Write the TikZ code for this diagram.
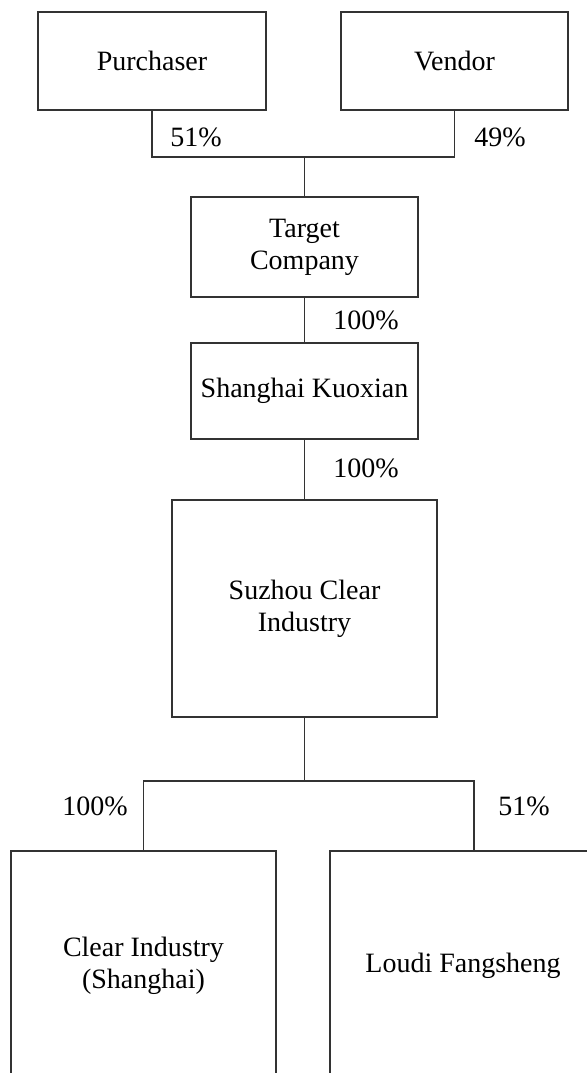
\documentclass[tikz,border=0pt]{standalone}
\usepackage{fontspec}
\setmainfont{Liberation Serif}

\tikzset{
  entity/.style={draw=black!80, line width=0.65pt, inner sep=0pt, align=center,
    font=\fontsize{14}{16}\selectfont},
  share/.style={font=\fontsize{14}{16}\selectfont, inner sep=0pt},
  link/.style={draw=black!80, line width=0.65pt}
}

\begin{document}
\begin{tikzpicture}[x=0.5pt, y=-0.5pt]
  \clip (0,0) rectangle (587,1073);
  % owners
  \node[entity, minimum width=114pt, minimum height=49pt] (purchaser) at (152,61) {Purchaser};
  \node[entity, minimum width=113.5pt, minimum height=49pt] (vendor) at (454.5,61) {Vendor};
  % holding chain
  \node[entity, minimum width=113.5pt, minimum height=50pt] (target) at (304.5,247) {Target\\Company};
  \node[entity, minimum width=113.5pt, minimum height=48pt] (kuoxian) at (304.5,391) {Shanghai Kuoxian};
  \node[entity, minimum width=132.5pt, minimum height=108.5pt] (suzhou) at (304.5,608.5) {Suzhou Clear\\Industry};
  % subsidiaries (cut off at the bottom)
  \node[entity, minimum width=132.5pt, minimum height=114.5pt] (clear) at (143.5,965.5) {Clear Industry\\(Shanghai)};
  \node[entity, minimum width=133pt, minimum height=114.5pt] (loudi) at (463,965.5) {Loudi Fangsheng};

  \coordinate (topbar) at (304.5,157);
  \coordinate (lowbar) at (304.5,781);
  \coordinate (loudiin) at ([xshift=5.5pt]loudi.north);

  \draw[link] (purchaser.south) |- (topbar) -| (vendor.south);
  \draw[link] (topbar) -- (target.north);
  \draw[link] (target) -- (kuoxian);
  \draw[link] (kuoxian) -- (suzhou);
  \draw[link] (suzhou.south) -- (lowbar);
  \draw[link] (clear.north) |- (lowbar) -| (loudiin);

  \node[share] (p51) at (196,137) {51\%};
  \node[share] (v49) at (500,137) {49\%};
  \node[share] (t100) at (366,320) {100\%};
  \node[share] (k100) at (366,468) {100\%};
  \node[share] (c100) at (95,806) {100\%};
  \node[share] (l51) at (524,806) {51\%};
\end{tikzpicture}
\end{document}
